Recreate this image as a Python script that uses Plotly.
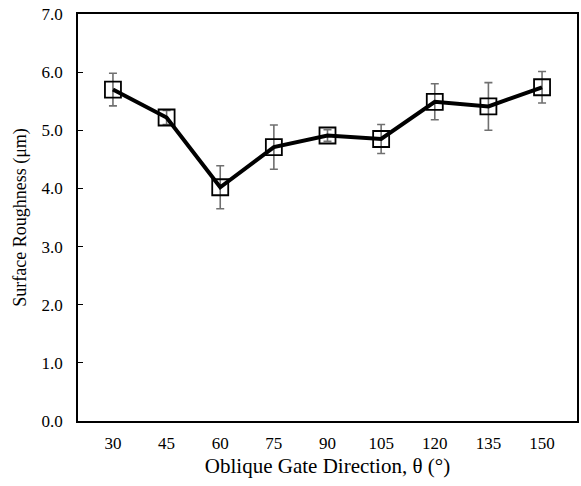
import plotly.graph_objects as go

angles = ["30", "45", "60", "75", "90", "105", "120", "135", "150"]
roughness = [5.70, 5.22, 4.02, 4.71, 4.91, 4.85, 5.49, 5.41, 5.74]
errors = [0.28, 0.12, 0.37, 0.38, 0.10, 0.25, 0.31, 0.41, 0.27]
y_ticks = [0, 1, 2, 3, 4, 5, 6, 7]

font_family = "Liberation Serif, Times New Roman, serif"

fig = go.Figure()
fig.add_trace(go.Scatter(
    x=angles, y=roughness,
    mode="lines+markers",
    line=dict(color="black", width=4),
    marker=dict(symbol="square-open", size=16, color="black", line=dict(width=1.8, color="black")),
    error_y=dict(type="data", array=errors, visible=True, color="#707070", thickness=1.6, width=4),
    showlegend=False,
))

fig.update_layout(
    width=581, height=486,
    margin=dict(l=78, r=4, t=14, b=65, autoexpand=False),
    paper_bgcolor="white", plot_bgcolor="white",
    font=dict(family=font_family, size=17, color="black"),
    xaxis=dict(
        type="category", automargin=False,
        title=dict(text="Oblique Gate Direction, θ (°)", font=dict(size=21), standoff=6),
        showline=True, linecolor="black", linewidth=1.5, mirror=True,
        showgrid=False, ticks="", tickfont=dict(size=17), ticklabelstandoff=6,
    ),
    yaxis=dict(
        range=[0, 7], tickvals=y_ticks, tickformat=".1f", automargin=False,
        title=dict(text="Surface Roughness (μm)", font=dict(size=18), standoff=10),
        showline=True, linecolor="black", linewidth=1.5, mirror=True,
        showgrid=False, zeroline=False, ticks="inside", ticklen=5, tickcolor="black",
        tickfont=dict(size=17), ticklabelstandoff=10, ticklabeloverflow="allow",
    ),
)

fig.write_html(
    "out.html",
    config={"displayModeBar": False},
    post_script="document.body.style.margin='0';",
)
